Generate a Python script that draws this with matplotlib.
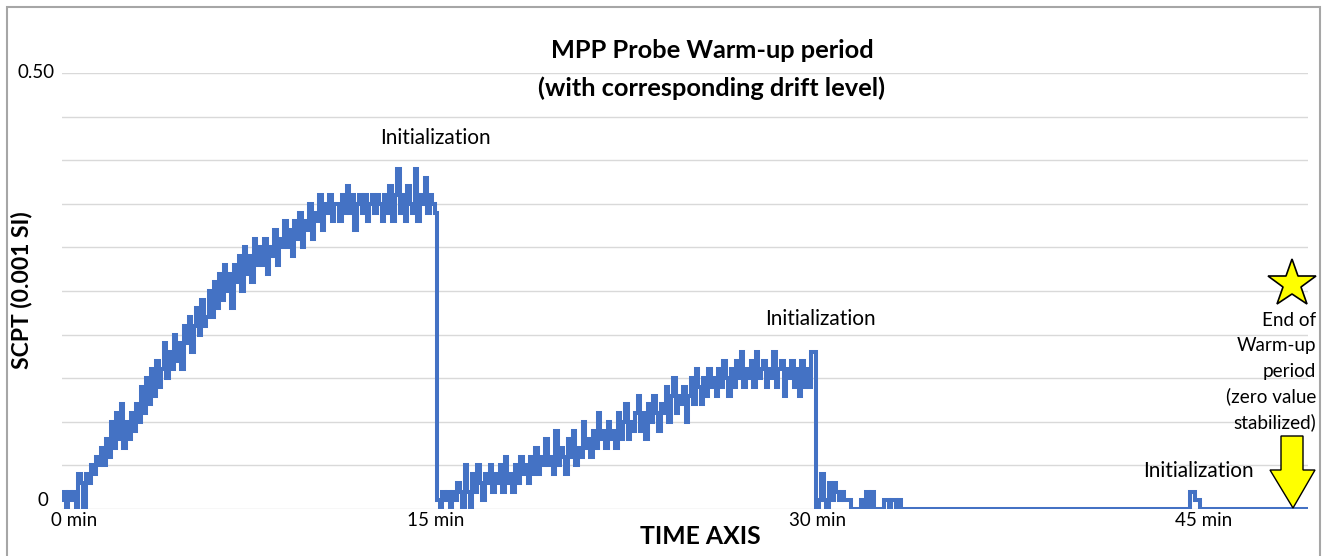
import numpy as np
import matplotlib
matplotlib.use("Agg")
from matplotlib import pyplot as plt
from matplotlib.patches import Rectangle, Polygon

plt.rcParams['font.family'] = ['Lato', 'DejaVu Sans']

# sample step (min)
DT = 0.1

# 0 .. 14.9 min, first warm-up ramp
seg1 = [0.01, 0.02, 0.00, 0.02, 0.01, 0.02, 0.00, 0.04, 0.03, 0.00,
        0.04, 0.03, 0.05, 0.04, 0.06, 0.05, 0.07, 0.05, 0.08, 0.06,
        0.10, 0.07, 0.11, 0.08, 0.12, 0.07, 0.10, 0.08, 0.11, 0.09,
        0.12, 0.10, 0.14, 0.11, 0.15, 0.12, 0.16, 0.13, 0.17, 0.14,
        0.16, 0.19, 0.15, 0.18, 0.16, 0.20, 0.17, 0.19, 0.16, 0.21,
        0.19, 0.22, 0.18, 0.21, 0.23, 0.20, 0.24, 0.21, 0.22, 0.25,
        0.22, 0.26, 0.23, 0.27, 0.24, 0.28, 0.25, 0.27, 0.23, 0.28,
        0.26, 0.29, 0.25, 0.30, 0.27, 0.29, 0.26, 0.31, 0.28, 0.30,
        0.28, 0.31, 0.27, 0.30, 0.29, 0.32, 0.28, 0.31, 0.30, 0.33,
        0.30, 0.32, 0.29, 0.33, 0.31, 0.34, 0.30, 0.33, 0.32, 0.35,
        0.31, 0.34, 0.33, 0.36, 0.32, 0.35, 0.34, 0.36, 0.33, 0.35,
        0.35, 0.33, 0.36, 0.34, 0.37, 0.34, 0.36, 0.32, 0.35, 0.36,
        0.34, 0.36, 0.33, 0.35, 0.36, 0.34, 0.36, 0.35, 0.33, 0.36,
        0.34, 0.37, 0.33, 0.36, 0.39, 0.34, 0.36, 0.33, 0.37, 0.35,
        0.34, 0.39, 0.33, 0.36, 0.35, 0.38, 0.34, 0.36, 0.35, 0.34]

# 15.0 .. 30.0 min, second ramp
seg2 = [0.01, 0.00, 0.02, 0.01, 0.02, 0.00, 0.02, 0.01, 0.03, 0.02,
        0.00, 0.05, 0.02, 0.00, 0.04, 0.02, 0.05, 0.03, 0.01, 0.04,
        0.03, 0.05, 0.02, 0.04, 0.03, 0.05, 0.02, 0.06, 0.03, 0.04,
        0.02, 0.05, 0.03, 0.06, 0.04, 0.05, 0.03, 0.06, 0.04, 0.07,
        0.04, 0.06, 0.05, 0.08, 0.05, 0.06, 0.04, 0.09, 0.05, 0.07,
        0.06, 0.04, 0.08, 0.06, 0.09, 0.05, 0.07, 0.06, 0.10, 0.07,
        0.08, 0.06, 0.09, 0.07, 0.11, 0.08, 0.09, 0.07, 0.10, 0.08,
        0.09, 0.07, 0.11, 0.08, 0.10, 0.12, 0.08, 0.10, 0.09, 0.11,
        0.13, 0.09, 0.11, 0.08, 0.12, 0.10, 0.13, 0.11, 0.09, 0.12,
        0.11, 0.14, 0.10, 0.13, 0.15, 0.11, 0.13, 0.12, 0.14, 0.10,
        0.13, 0.15, 0.12, 0.16, 0.14, 0.12, 0.15, 0.13, 0.16, 0.14,
        0.15, 0.13, 0.16, 0.14, 0.17, 0.15, 0.13, 0.16, 0.14, 0.17,
        0.15, 0.18, 0.14, 0.16, 0.15, 0.17, 0.14, 0.18, 0.15, 0.16,
        0.17, 0.14, 0.16, 0.15, 0.18, 0.14, 0.16, 0.17, 0.13, 0.16,
        0.15, 0.17, 0.14, 0.16, 0.13, 0.17, 0.14, 0.16, 0.14, 0.18,
        0.18]

# 30.1 .. 33.5 min, settling blips
seg3 = [0.00, 0.01, 0.04, 0.01, 0.00, 0.03, 0.01, 0.03, 0.02, 0.01,
        0.02, 0.01, 0.01, 0.01, 0.00, 0.00, 0.00, 0.00, 0.01, 0.00,
        0.02, 0.00, 0.02, 0.00, 0.00, 0.00, 0.00, 0.01, 0.01, 0.00,
        0.01, 0.01, 0.00, 0.01, 0.00]

flat1 = [0.0] * 114          # 33.6 .. 44.9 min
blip = [0.02, 0.02, 0.01, 0.01, 0.00]   # 45.0 .. 45.4 min
flat2 = [0.0] * 42           # 45.5 .. 49.6 min

xtick_pos = [0.5, 14.9, 30.1, 45.5]
xtick_lab = ['0 min', '15 min', '30 min', '45 min']

values = np.array(seg1 + seg2 + seg3 + flat1 + blip + flat2)
times = np.arange(len(values)) * DT

W, H = 1326, 556
fig = plt.figure(figsize=(W / 100, H / 100), dpi=100)
fig.patch.set_facecolor('white')

def fx(x):
    return x / W

def fy(y):
    return 1 - y / H

# outer chart frame
fig.patches.append(Rectangle((fx(7), fy(560)), fx(1320) - fx(7), fy(7) - fy(560),
                             transform=fig.transFigure, fill=False,
                             edgecolor='#a6a6a6', linewidth=1.5))

ax = fig.add_axes([fx(62), fy(509), fx(1308) - fx(62), fy(73) - fy(509)])
ax.set_xlim(0, 49.65)
ax.set_ylim(0, 0.5)
for s in ax.spines.values():
    s.set_visible(False)
ax.set_yticks(np.arange(0, 0.501, 0.05))
ax.yaxis.grid(True, color='#d9d9d9', linewidth=1)
ax.set_axisbelow(True)
ax.tick_params(axis='y', length=0, labelleft=False)
ax.set_xticks(xtick_pos)
ax.set_xticklabels(xtick_lab, fontsize=13.5)
ax.tick_params(axis='x', length=0, pad=2)

ax.plot(times, values, color='#4472c4', linewidth=2.9, drawstyle='steps-mid',
        solid_joinstyle='miter')

# y tick labels (only ends shown)
fig.text(fx(55), fy(73), '0.50', ha='right', va='center', fontsize=13.5)
fig.text(fx(48), fy(501), '0', ha='right', va='center', fontsize=13.5)

fig.text(fx(712), fy(50), 'MPP Probe Warm-up period', ha='center', va='center',
         fontsize=18.3, fontweight='bold')
fig.text(fx(712), fy(88), '(with corresponding drift level)', ha='center', va='center',
         fontsize=18.3, fontweight='bold')
fig.text(fx(22), fy(290), 'SCPT (0.001 SI)', ha='center', va='center', rotation=90,
         fontsize=16.5, fontweight='bold')
fig.text(fx(700), fy(537), 'TIME AXIS', ha='center', va='center',
         fontsize=17.8, fontweight='bold')

for px, py in [(435, 138), (820, 319), (1198, 471)]:
    fig.text(fx(px), fy(py), 'Initialization', ha='center', va='center', fontsize=15)

for i, line in enumerate(['End of', 'Warm-up', 'period', '(zero value', 'stabilized)']):
    fig.text(fx(1316), fy(320 + i * 25.5), line, ha='right', va='center', fontsize=13.6)

# star
fig.lines.append(plt.Line2D([fx(1292)], [fy(284)], transform=fig.transFigure,
                            marker='*', markersize=36, markerfacecolor='#ffff00',
                            markeredgecolor='black', markeredgewidth=1.2, linestyle='none'))

# yellow down arrow
arrow = [(1281, 436), (1303, 436), (1303, 470), (1315, 470), (1293, 508),
         (1270, 470), (1281, 470)]
fig.patches.append(Polygon([(fx(x), fy(y)) for x, y in arrow], closed=True,
                           transform=fig.transFigure, facecolor='#ffff00',
                           edgecolor='black', linewidth=1))

fig.savefig('out.png', dpi=100)
